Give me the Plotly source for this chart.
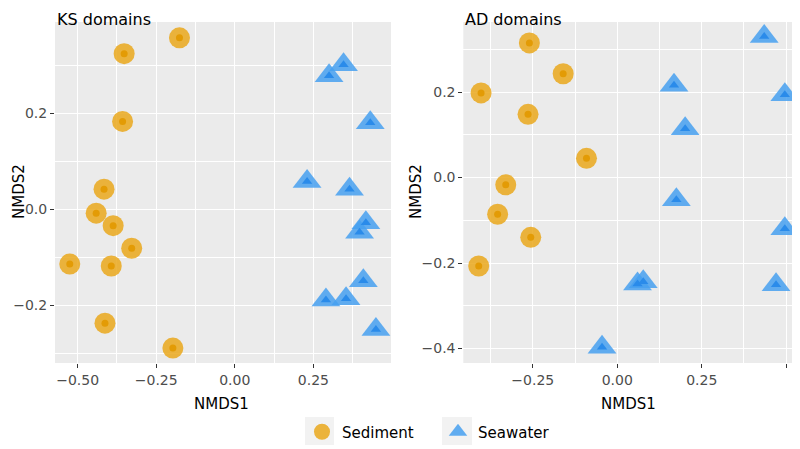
import plotly.graph_objects as go

# ---- data ----
ks_sed_x = [-0.176, -0.352, -0.357, -0.416, -0.441, -0.387, -0.328, -0.525, -0.393, -0.413, -0.197]
ks_sed_y = [0.357, 0.324, 0.183, 0.042, -0.008, -0.034, -0.081, -0.114, -0.118, -0.237, -0.289]
ks_sea_x = [0.346, 0.300, 0.431, 0.230, 0.365, 0.417, 0.397, 0.409, 0.290, 0.354, 0.449]
ks_sea_y = [0.301, 0.278, 0.180, 0.058, 0.042, -0.028, -0.048, -0.149, -0.189, -0.186, -0.250]

ad_sed_x = [-0.260, -0.160, -0.403, -0.264, -0.091, -0.330, -0.354, -0.256, -0.410]
ad_sed_y = [0.315, 0.243, 0.198, 0.148, 0.045, -0.017, -0.086, -0.140, -0.207]
ad_sea_x = [0.435, 0.168, 0.496, 0.201, 0.175, 0.496, 0.060, 0.077, 0.470, -0.045]
ad_sea_y = [0.330, 0.216, 0.194, 0.114, -0.052, -0.120, -0.249, -0.244, -0.251, -0.397]

groups = ["Sediment", "Seawater"]
panel_titles = ["KS domains", "AD domains"]
ks_xticks = [-0.50, -0.25, 0.00, 0.25]
ad_xticks = [-0.25, 0.00, 0.25, 0.50]
ks_yticks = [-0.2, 0.0, 0.2]
ad_yticks = [-0.4, -0.2, 0.0, 0.2]

SED_OUT = "rgba(233,165,20,0.82)"
SED_IN = "#E39B05"
SEA_OUT = "rgba(70,160,240,0.85)"
SEA_IN = "#2A8BEA"

FONT = "DejaVu Sans, Liberation Sans, sans-serif"

fig = go.Figure()

def add_group(xs, ys, xa, ya, sym, out_c, in_c, big, small, name, show):
    fig.add_trace(go.Scatter(x=xs, y=ys, xaxis=xa, yaxis=ya, mode="markers", name=name,
                             legendgroup=name, showlegend=show,
                             marker=dict(symbol=sym, size=big, color=out_c, line=dict(width=0))))
    fig.add_trace(go.Scatter(x=xs, y=ys, xaxis=xa, yaxis=ya, mode="markers", name=name,
                             legendgroup=name, showlegend=False, hoverinfo="skip",
                             marker=dict(symbol=sym, size=small, color=in_c, line=dict(width=0))))

add_group(ks_sed_x, ks_sed_y, "x", "y", "circle", SED_OUT, SED_IN, 21, 7, groups[0], True)
add_group(ks_sea_x, ks_sea_y, "x", "y", "triangle-up", SEA_OUT, SEA_IN, 25, 9, groups[1], True)
add_group(ad_sed_x, ad_sed_y, "x2", "y2", "circle", SED_OUT, SED_IN, 21, 7, groups[0], False)
add_group(ad_sea_x, ad_sea_y, "x2", "y2", "triangle-up", SEA_OUT, SEA_IN, 25, 9, groups[1], False)

# page body has an 8px margin; map screen pixels to paper fractions
OFF = 8
W, H = 792, 441
def px(v):
    return (v - OFF) / W
def py(v):
    return 1 - (v - OFF) / H

axis_common = dict(showline=False, zeroline=False, ticks="outside", ticklen=4, tickwidth=1,
                   tickcolor="#333333", gridcolor="white", gridwidth=1.3, automargin=False,
                   tickfont=dict(family=FONT, size=14, color="#4D4D4D"))
minor_x = dict(tickvals=[-0.375, -0.125, 0.125, 0.375], showgrid=True, gridcolor="white",
               gridwidth=0.6, ticks="")
minor_y = dict(tickvals=[-0.3, -0.1, 0.1, 0.3], showgrid=True, gridcolor="white",
               gridwidth=0.6, ticks="")

fig.update_layout(
    width=W, height=H,
    margin=dict(l=0, r=0, t=0, b=0),
    paper_bgcolor="white", plot_bgcolor="#EBEBEB",
    font=dict(family=FONT, color="black"),
    xaxis=dict(domain=[px(55), px(391)], range=[-0.572, 0.497], tickvals=ks_xticks,
               tickformat=".2f", anchor="y", minor=minor_x, **axis_common),
    yaxis=dict(domain=[py(363), py(22)], range=[-0.320, 0.390], tickvals=ks_yticks,
               tickformat=".1f", anchor="x", minor=minor_y, **axis_common),
    xaxis2=dict(domain=[px(463.3), px(798)], range=[-0.4556, 0.535], tickvals=ad_xticks,
                tickformat=".2f", anchor="y2", minor=minor_x, **axis_common),
    yaxis2=dict(domain=[py(363), py(22)], range=[-0.434, 0.364], tickvals=ad_yticks,
                tickformat=".1f", anchor="x2", minor=minor_y, **axis_common),
    legend=dict(orientation="h", x=px(438), xanchor="center", y=py(432), yanchor="middle",
                font=dict(family=FONT, size=15, color="black"), itemsizing="trace",
                entrywidth=91, bgcolor="rgba(0,0,0,0)"),
    showlegend=True,
)

# grey legend key backgrounds
shapes = []
for x0, x1 in [(305, 334), (442, 472)]:
    shapes.append(dict(type="rect", xref="paper", yref="paper", x0=px(x0), x1=px(x1),
                       y0=py(445), y1=py(417), fillcolor="#F2F2F2", line=dict(width=0),
                       layer="below"))
fig.update_layout(shapes=shapes)

ann = []
ann.append(dict(text=panel_titles[0], x=px(55), y=py(8), xref="paper", yref="paper",
                xanchor="left", yanchor="top", showarrow=False,
                font=dict(family=FONT, size=16, color="black")))
ann.append(dict(text=panel_titles[1], x=px(463), y=py(8), xref="paper", yref="paper",
                xanchor="left", yanchor="top", showarrow=False,
                font=dict(family=FONT, size=16, color="black")))
for cx in [221, 628]:
    ann.append(dict(text="NMDS1", x=px(cx), y=py(404), xref="paper", yref="paper",
                    xanchor="center", yanchor="middle", showarrow=False,
                    font=dict(family=FONT, size=15, color="black")))
ann.append(dict(text="NMDS2", x=px(8), y=py(192), xref="paper", yref="paper",
                xanchor="left", yanchor="middle", showarrow=False, textangle=-90,
                font=dict(family=FONT, size=15, color="black")))
ann.append(dict(text="NMDS2", x=px(416), y=py(192), xref="paper", yref="paper",
                xanchor="center", yanchor="middle", showarrow=False, textangle=-90,
                font=dict(family=FONT, size=15, color="black")))
fig.update_layout(annotations=ann)

fig.write_html("out.html")
